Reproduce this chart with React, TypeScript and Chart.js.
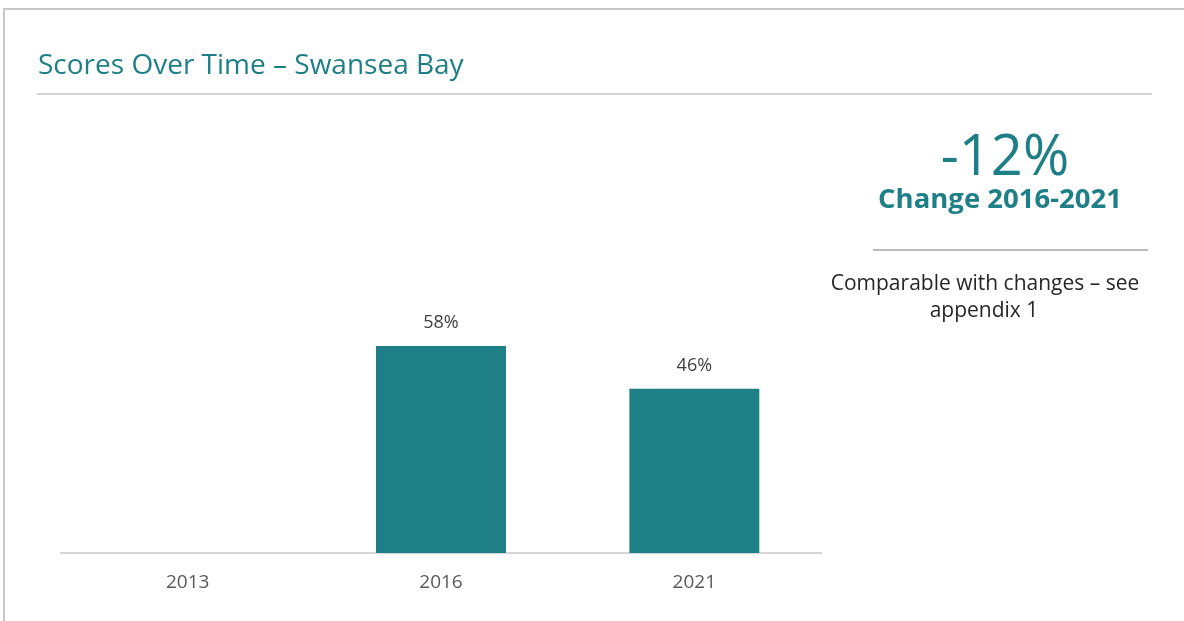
import React, { useEffect, useRef } from "react";
import { Chart, registerables } from "chart.js";

Chart.register(...registerables);

const categories: string[] = ["2013", "2016", "2021"];
const scores: (number | null)[] = [null, 58, 46];
const titleText = "Scores Over Time – Swansea Bay";
const changeValue = "-12%";
const changeLabel = "Change 2016-2021";
const noteLines: string[] = ["Comparable with changes – see", "appendix 1"];

const TEAL = "#1e7f87";
const FONT = "'Open Sans', 'Noto Sans', sans-serif";

const decorPlugin = {
  id: "decor",
  beforeDraw(chart: any) {
    const ctx = chart.ctx as CanvasRenderingContext2D;
    ctx.save();
    ctx.fillStyle = "#ffffff";
    ctx.fillRect(0, 0, chart.width, chart.height);
    // frame
    ctx.strokeStyle = "#c8c8c8";
    ctx.lineWidth = 2;
    ctx.beginPath();
    ctx.moveTo(4, 621);
    ctx.lineTo(4, 9);
    ctx.lineTo(1184, 9);
    ctx.stroke();
    // title
    ctx.fillStyle = TEAL;
    ctx.font = `400 28px ${FONT}`;
    ctx.textAlign = "left";
    ctx.textBaseline = "alphabetic";
    ctx.fillText(titleText, 38, 74);
    ctx.strokeStyle = "#c4c4c4";
    ctx.lineWidth = 1.5;
    ctx.beginPath();
    ctx.moveTo(37, 94);
    ctx.lineTo(1152, 94);
    ctx.stroke();
    // right panel
    ctx.textAlign = "center";
    ctx.font = `400 56px ${FONT}`;
    ctx.fillText(changeValue, 1005, 175);
    ctx.font = `700 27.5px ${FONT}`;
    ctx.fillText(changeLabel, 1000, 208);
    ctx.strokeStyle = "#a6a6a6";
    ctx.lineWidth = 1.5;
    ctx.beginPath();
    ctx.moveTo(873, 250);
    ctx.lineTo(1148, 250);
    ctx.stroke();
    ctx.fillStyle = "#262626";
    ctx.font = `400 21px ${FONT}`;
    ctx.fillText(noteLines[0], 985, 290);
    ctx.fillText(noteLines[1], 984, 317);
    ctx.restore();
  },
  afterDatasetsDraw(chart: any) {
    const ctx = chart.ctx as CanvasRenderingContext2D;
    const meta = chart.getDatasetMeta(0);
    ctx.save();
    ctx.fillStyle = "#404040";
    ctx.font = `400 18px ${FONT}`;
    ctx.textAlign = "center";
    ctx.textBaseline = "middle";
    meta.data.forEach((bar: any, i: number) => {
      const v = scores[i];
      if (v === null || v === undefined) return;
      ctx.fillText(`${v}%`, bar.x, bar.y - 23);
    });
    ctx.restore();
  },
};

export default function App() {
  const canvasRef = useRef<HTMLCanvasElement | null>(null);

  useEffect(() => {
    if (!canvasRef.current) return;
    const chart = new Chart(canvasRef.current, {
      type: "bar",
      data: {
        labels: categories,
        datasets: [
          {
            data: scores as any,
            backgroundColor: TEAL,
            borderWidth: 0,
            categoryPercentage: 1,
            barPercentage: 0.513,
          },
        ],
      },
      options: {
        animation: false,
        responsive: false,
        maintainAspectRatio: false,
        layout: { padding: { left: 61, right: 363, top: 196, bottom: 0 } },
        plugins: {
          legend: { display: false },
          title: { display: false },
          tooltip: { enabled: false },
        },
        scales: {
          x: {
            grid: { display: false, drawTicks: false },
            border: { display: true, color: "#d6d6d6", width: 2 },
            ticks: {
              color: "#595959",
              font: { family: FONT, size: 19 },
              padding: 18,
            },
            afterFit(scale: any) {
              scale.height = 68;
            },
          },
          y: {
            display: false,
            min: 0,
            max: 100,
          },
        },
      },
      plugins: [decorPlugin],
    });
    return () => chart.destroy();
  }, []);

  return (
    <div style={{ position: "absolute", left: 0, top: 0, width: 1184, height: 621, background: "#fff" }}>
      <canvas ref={canvasRef} width={1184} height={621} style={{ width: 1184, height: 621, display: "block" }} />
    </div>
  );
}
